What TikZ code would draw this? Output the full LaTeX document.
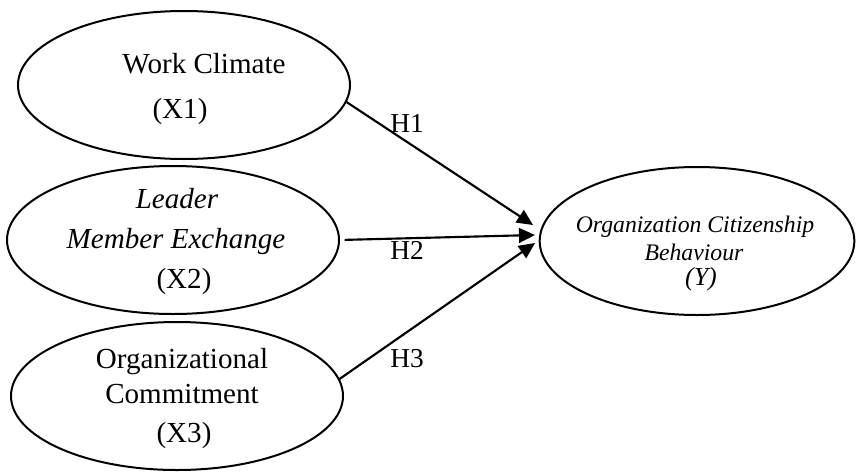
\documentclass[tikz,border=0pt]{standalone}
\usepackage{fontspec}
\setmainfont{Liberation Serif}
\usetikzlibrary{positioning, arrows.meta, shapes.geometric, calc}

\tikzset{
  construct/.style={draw, ellipse, line width=1.5pt, minimum width=249pt, minimum height=111pt, inner sep=0pt},
  txt/.style={anchor=base, inner sep=0pt, font=\fontsize{21.8}{26}\selectfont},
  hyp/.style={anchor=base, inner sep=0pt, font=\fontsize{20.5}{24}\selectfont},
  link/.style={line width=1.6pt, -{Triangle[length=12pt, width=11pt]}}
}

\begin{document}
\begin{tikzpicture}[x=0.75pt, y=-0.75pt]
  \useasboundingbox (0,0) rectangle (862,471);
  % exogenous constructs
  \node[construct] (wc) at (184,85) {};
  \node[construct] (lmx) at (173,240) {};
  \node[construct] (oc) at (177,396) {};
  % endogenous construct
  \node[construct, minimum width=236pt] (ocb) at (697,241) {};
  % texts
  \node[txt] (wctxt) at (204,73) {Work Climate};
  \node[txt] (x1) at (180,118) {(X1)};
  \node[txt] (lmxa) at (177,208) {\itshape Leader};
  \node[txt] (lmxb) at (176,248) {\itshape Member Exchange};
  \node[txt] (x2) at (184,288) {(X2)};
  \node[txt] (oca) at (182,368) {Organizational};
  \node[txt] (ocbtxt) at (182,403) {Commitment};
  \node[txt] (x3) at (184,442) {(X3)};
  \node[txt, font=\fontsize{17.8}{21}\selectfont\itshape] (ocba) at (695,232) {Organization Citizenship};
  \node[txt, font=\fontsize{17.8}{21}\selectfont\itshape] (ocbb) at (694,260) {Behaviour};
  \node[txt, font=\fontsize{19.5}{23}\selectfont\itshape] (y) at (701,285) {(Y)};
  % arrow tips
  \coordinate (t1) at (533,225);
  \coordinate (t2) at (535,235);
  \coordinate (t3) at (535,243);
  % paths
  \draw[link] (wc.-6) -- (t1);
  \draw[link, shorten <=3.5pt] (lmx.east) -- (t2);
  \draw[link] (oc.6) -- (t3);
  \node[hyp] (h1) at (407,132) {H1};
  \node[hyp] (h2) at (407,259) {H2};
  \node[hyp] (h3) at (407,367) {H3};
\end{tikzpicture}
\end{document}
